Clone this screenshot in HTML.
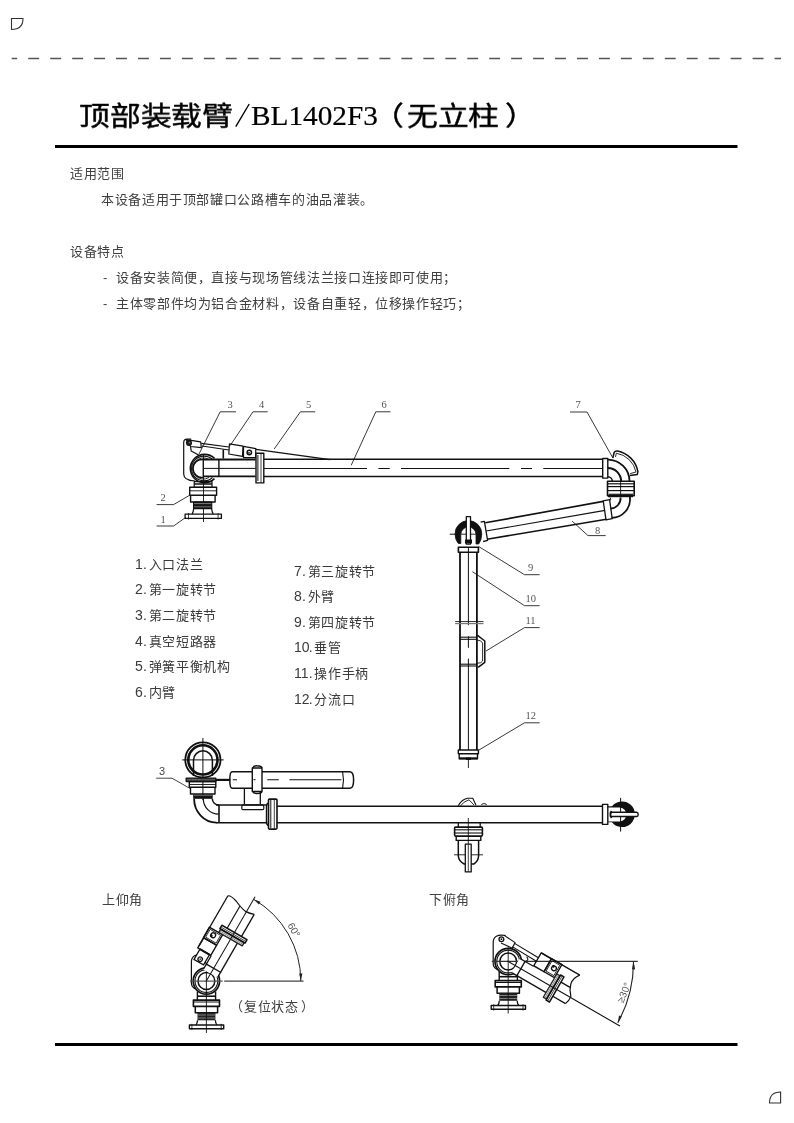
<!DOCTYPE html>
<html lang="zh-CN"><head><meta charset="utf-8">
<style>
html,body{margin:0;padding:0;background:#fff;}
body{width:794px;height:1123px;position:relative;overflow:hidden;font-family:"Liberation Sans",sans-serif;color:#404040;}
.t{position:absolute;white-space:nowrap;line-height:1;font-size:13px;letter-spacing:0.64px;}
.ti{position:absolute;white-space:nowrap;line-height:1;font-size:28px;color:#000;transform-origin:0 0;transform:scale(1.1,0.95);-webkit-text-stroke:0.45px #000;}
.lg{position:absolute;white-space:nowrap;line-height:1;font-size:13px;letter-spacing:0.64px;color:#3a3a3a;}
.n{display:inline-block;letter-spacing:0;font-size:14px;}
.n1{width:6.82px}.n2{width:13.64px}.p{display:inline-block;width:5.6px;padding-left:1.2px;letter-spacing:0;font-size:14px;}
svg{position:absolute;left:0;top:0;will-change:transform;}
.t,.ti,.lg{will-change:transform;}
</style></head><body>
<svg width="794" height="1123" viewBox="0 0 794 1123">
  <path d="M11.5 18.5 H23 Q23 29.5 11.5 29.5 Z" fill="none" stroke="#333" stroke-width="1.1"/>
  <line x1="11.7" y1="58.5" x2="781" y2="58.5" stroke="#555" stroke-width="1.4" stroke-dasharray="10.9 11.05" stroke-dashoffset="5.4"/>
  <rect x="55" y="145" width="682.5" height="3" fill="#000"/>
  <rect x="55" y="1043" width="682.5" height="3" fill="#000"/>
  <path d="M780.6 1092 V1103 H769.5 Q769.5 1092 780.6 1092 Z" fill="none" stroke="#333" stroke-width="1.1"/>
<line x1="235.8" y1="126.7" x2="249.2" y2="104" stroke="#000" stroke-width="1.4"/>
<g fill="none" stroke="#111" stroke-width="1.2" stroke-linejoin="round">
  <!-- labels -->
  <g stroke="#222" stroke-width="0.9">
    <polyline points="236,411.8 220.2,411.8 199,454"/>
    <polyline points="267.7,411.8 253,411.8 230,445.7"/>
    <polyline points="315.2,411.8 300.4,411.8 274.2,449"/>
    <polyline points="390.5,411.8 375.8,411.8 351.2,465.3"/>
    <polyline points="156.6,504.6 173.6,504.6 189.7,495.2"/>
    <polyline points="156.6,526 173.6,526 185.9,517.3"/>
    <polyline points="570,412 587,412 612.9,458"/>
    <polyline points="605.7,535.6 588,535.6 572.2,521.2"/>
    <polyline points="539.6,574.7 524.5,574.7 478.5,546.4"/>
    <polyline points="539.6,605.7 524.5,605.7 472.4,571.7"/>
    <polyline points="539.6,627.6 524.5,627.6 486,651"/>
    <polyline points="539.6,722.8 524.5,722.8 478,750.6"/>
  </g>
  <!-- center line base -->
  <line x1="203.5" y1="454" x2="203.5" y2="522" stroke-width="0.9"/>
  <!-- bracket -->
  <path d="M195,481 Q183.7,480.5 183.7,474 V442.5 Q183.7,439.2 187,439.2 H191.2"/>
  <path d="M190.6,446.8 L191.2,450.9 L199,455.3"/>
  <!-- link -->
  <path d="M186.2,439.6 L200.7,441.8 L201.3,447.7 L190.6,446.5 Z"/>
  <circle cx="189" cy="443" r="2.4" fill="#222" stroke-width="1.2"/><circle cx="189.6" cy="442.6" r="0.8" fill="#888" stroke="none"/>
  <!-- rod -->
  <line x1="201.3" y1="443.3" x2="229" y2="447"/>
  <line x1="201.9" y1="446" x2="229" y2="450"/>
  <path d="M229.5,443.8 L243,446.2 L242.5,456.4 L228.8,454 Z"/>
  <path d="M243.5,446.3 L255.8,448.6 L255.6,457.7 L243.5,457.7 Z"/>
  <circle cx="249.3" cy="452.5" r="2.2" fill="none" stroke-width="1.5"/><circle cx="249" cy="452.8" r="0.9" fill="#111" stroke="none"/>
  <line x1="255.8" y1="449.3" x2="330" y2="459.6"/>
  <line x1="223.3" y1="449.6" x2="223.3" y2="458.5" stroke-width="1.6"/>
  <!-- joint ring -->
  <path d="M214.5,458.3 A14.2,14.2 0 1 0 214.5,478.7" stroke-width="1.7"/>
  <path d="M212.5,459.5 A12.4,12.4 0 1 0 212.5,477.5" stroke-width="1.1"/>
  <path d="M209,459.5 A10.6,10.6 0 1 0 209,477.5" stroke-width="0.9"/>
  <path d="M203.3,459.6 A9,9 0 1 0 203.3,477.4" stroke-width="1.6"/>
  <!-- inner pipe -->
  <line x1="203.2" y1="459.5" x2="255.6" y2="459.5" stroke-width="1.8"/>
  <line x1="203.2" y1="476.4" x2="255.6" y2="476.4" stroke-width="1.8"/>
  <line x1="203.2" y1="459.5" x2="203.2" y2="476.4"/>
  <line x1="218.9" y1="459.5" x2="218.9" y2="476.4" stroke-width="1.4"/>
  <line x1="203.2" y1="468.4" x2="255.6" y2="468.4" stroke-width="1"/>
  <!-- flange -->
  <rect x="256" y="453.3" width="7.8" height="29.6" fill="#fff" stroke-width="1.4"/>
  <line x1="257.9" y1="455" x2="257.9" y2="481" stroke-width="1"/>
  <line x1="261" y1="453.3" x2="261" y2="482.9" stroke-width="0.8"/>
  <!-- pipe 6 -->
  <line x1="263.8" y1="459.25" x2="602.2" y2="459.25" stroke-width="1.5"/>
  <line x1="263.8" y1="476.4" x2="602.2" y2="476.4" stroke-width="1.5"/>
  <path d="M263.8,468.5 H367 M378.4,468.5 H389.7 M401,468.5 H509.3 M521,468.5 H532 M543.3,468.5 H602" stroke-width="1.1"/>
  <!-- swivel 2 -->
  <rect x="194.2" y="481.7" width="17.8" height="5.6" stroke-width="1.2"/>
  <line x1="194.2" y1="484" x2="212" y2="484" stroke-width="1.5"/>
  <rect x="189.7" y="487.2" width="26.9" height="8.1" stroke-width="1.4"/>
  <line x1="189.7" y1="490.8" x2="216.6" y2="490.8" stroke-width="0.9"/>
  <path d="M190.6,495.3 V502 H215.1 V495.3" stroke-width="1.4"/>
  <rect x="193.6" y="502" width="18.1" height="6.6" fill="#151515" stroke-width="1.2"/>
  <line x1="194" y1="503.6" x2="211.3" y2="503.6" stroke="#aaa" stroke-width="0.7"/>
  <line x1="194" y1="506.8" x2="211.3" y2="506.8" stroke="#999" stroke-width="0.7"/>
  <path d="M193.6,508.6 Q193.5,512 192.1,514.1 M211.7,508.6 Q211.8,512 213.2,514.1" stroke-width="1.2"/>
  <rect x="185.1" y="514.1" width="36.3" height="4.3" stroke-width="1.3"/>
  <line x1="188.5" y1="513" x2="188.5" y2="519.5" stroke-width="0.8"/>
  <line x1="218.1" y1="513" x2="218.1" y2="519.5" stroke-width="0.8"/>
</g>
<g font-family="Liberation Serif, serif" font-size="10.5" fill="#555">
  <text x="227.5" y="408">3</text>
  <text x="259" y="408">4</text>
  <text x="306" y="408">5</text>
  <text x="381.5" y="408">6</text>
  <text x="160.5" y="501">2</text>
  <text x="160.5" y="522.5">1</text>
  <text x="575.5" y="408">7</text>
  <text x="595" y="533.5">8</text>
  <text x="528" y="571">9</text>
  <text x="525.5" y="602">10</text>
  <text x="525.5" y="624">11</text>
  <text x="525.5" y="719">12</text>
</g>
<g fill="none" stroke="#111" stroke-width="1.3" stroke-linejoin="round">
  <!-- joint 7 upper elbow -->
  <rect x="602.7" y="458.5" width="5.1" height="19.6" stroke-width="1.4"/>
  <path d="M607.8,459.6 A21.7,21.7 0 0 1 629.5,481.3" stroke-width="1.8"/>
  <path d="M607.8,468 A13.3,13.3 0 0 1 621.1,481.3" stroke-width="2"/>
  <path d="M607.8,476.8 A4.5,4.5 0 0 1 612.3,481.3" stroke-width="1.5"/>
  <!-- handle 7 -->
  <path d="M612.8,458 L614.2,452.3 Q615.2,450.6 617.5,451 A26,26 0 0 1 637.9,471.5 L637.2,474.6 L630,475.5" stroke-width="1.5"/>
  <path d="M615.5,457 L616.3,453.2 A24,24 0 0 1 636,472 L630.2,473.6" stroke-width="0.9"/>
  <!-- swivel 7 -->
  <rect x="607.5" y="481.3" width="26.7" height="14.5" stroke-width="1.6"/>
  <line x1="607.5" y1="483.8" x2="634.2" y2="483.8" stroke-width="1.2"/>
  <line x1="607.5" y1="486.6" x2="634.2" y2="486.6" stroke-width="1.2"/>
  <line x1="607.5" y1="490.6" x2="634.2" y2="490.6" stroke-width="1.2"/>
  <line x1="608.5" y1="494.3" x2="633.2" y2="494.3" stroke-width="1.2"/>
  <line x1="608" y1="496.3" x2="633" y2="496.3" stroke-width="1.8"/>
  <line x1="620.6" y1="481.3" x2="620.6" y2="497" stroke-width="0.9"/>
  <!-- lower elbow -->
  <path d="M629.9,497 A18.5,18.5 0 0 1 611.6,517.8" stroke-width="1.8"/>
  <path d="M620.6,497.5 A10.5,10.5 0 0 1 610.3,508.6" stroke-width="1.8"/>
  <path d="M610,497.5 Q611.5,499.5 609.8,500.6" stroke-width="1"/>
  <!-- arm 8 collar + lines -->
  <path d="M603.2,500.8 L609.6,499.6 L612.2,518.6 L606,519.8 Z" stroke-width="1.3"/>
  <line x1="603.2" y1="501.4" x2="485.3" y2="522.8" stroke-width="1.6"/>
  <line x1="605" y1="510.4" x2="486.2" y2="531" stroke-width="1.1"/>
  <line x1="606.4" y1="519.3" x2="487" y2="539.2" stroke-width="1.6"/>
  <path d="M480.6,522.2 L484.4,521.3 L487.6,540.4 L483.2,541.5" stroke-width="1.3"/>
  <!-- joint 9 dome -->
  <path d="M455,534 A13.4,13.4 0 0 1 481.8,534 Q481.6,540 478.7,544 L476,544 V534.5 A7.6,7.6 0 0 0 460.8,534.5 V543.5 L458.4,543.5 Q455.2,540 455,534 Z" fill="#111" stroke="#111" stroke-width="0.8"/>
  <line x1="449.8" y1="534.2" x2="455.5" y2="534.2" stroke-width="1"/>
  <line x1="460.8" y1="534.2" x2="476" y2="534.2" stroke-width="0.9"/>
  <rect x="466.3" y="516.6" width="4.2" height="27.5" fill="#fff" stroke-width="1.3"/>
  <rect x="465" y="539.5" width="7" height="4" fill="#111" stroke="none"/>
  <rect x="458.4" y="547.2" width="20" height="5" stroke-width="1.6"/>
  <!-- pipe 10 -->
  <line x1="460" y1="552.2" x2="460" y2="750" stroke-width="1.8"/>
  <line x1="476.9" y1="552.2" x2="476.9" y2="750" stroke-width="1.8"/>
  <path d="M468.4,547 V625.1 M468.4,636.4 V647.8 M468.4,658.6 V750" stroke-width="1"/>
  <line x1="455.1" y1="621.6" x2="483.5" y2="621.6" stroke-width="0.9"/>
  <line x1="455.1" y1="623.6" x2="483.5" y2="623.6" stroke-width="1.2" stroke="#777"/>
  <line x1="460" y1="637.2" x2="476.9" y2="637.2" stroke-width="1.1"/>
  <line x1="460" y1="639.3" x2="476.9" y2="639.3" stroke-width="1.1"/>
  <line x1="460" y1="664.2" x2="476.9" y2="664.2" stroke-width="1.1"/>
  <line x1="460" y1="666" x2="476.9" y2="666" stroke-width="1.1"/>
  <path d="M477.2,635.2 L484.8,641 V662.3 L478.1,667.4" stroke-width="1.5"/>
  <path d="M477,640 Q481.5,640.3 482.6,643 V661 Q481.8,663.2 477,663.3" stroke-width="0.9"/>
  <!-- bottom -->
  <rect x="458.3" y="750" width="20.1" height="3.7" stroke-width="1.4"/>
  <path d="M459.2,753.7 V758.8 H477.5 V753.7" stroke-width="1.4"/>
  <line x1="459.2" y1="758.3" x2="477.5" y2="758.3" stroke-width="2"/>
  <rect x="466" y="757.5" width="5" height="2.5" fill="#111" stroke="none"/>
  <line x1="468.4" y1="759" x2="468.4" y2="768" stroke-width="0.9"/>
</g>
<g fill="none" stroke="#111" stroke-width="1.3" stroke-linejoin="round">
  <polyline points="156.2,778.2 172,778.2 190.6,788.8" stroke="#333" stroke-width="0.9"/>
  <!-- ring top view -->
  <circle cx="202.9" cy="759.9" r="17.6" stroke-width="1.8"/>
  <circle cx="202.9" cy="759.9" r="14.6" stroke-width="2.6"/>
  <path d="M193.5,776 V760.3 A9.45,9.45 0 0 1 212.4,760.3 V776" stroke-width="1.5"/>
  <line x1="202.9" y1="738" x2="202.9" y2="800" stroke-width="1"/>
  <line x1="182.2" y1="759.9" x2="223.7" y2="759.9" stroke-width="1"/>
  <!-- rod bar + body -->
  <rect x="186.2" y="778.1" width="29.6" height="3.4" fill="#555" stroke-width="1.3"/>
  <line x1="189" y1="779.8" x2="200" y2="779.8" stroke="#999" stroke-width="0.6" stroke-dasharray="1.5 1.5"/>
  <line x1="215.8" y1="779.9" x2="230.3" y2="779.9" stroke-width="2.2"/>
  <rect x="189.3" y="781.5" width="26.5" height="5.7" stroke-width="1.4"/>
  <path d="M190.5,787.2 V794 H215 V787.2" stroke-width="1.4"/>
  <line x1="189.3" y1="784.5" x2="215.8" y2="784.5" stroke-width="0.9"/>
  <rect x="193.2" y="794.6" width="19.5" height="4.2" fill="#111" stroke="none"/>
  <line x1="194" y1="795.6" x2="212" y2="795.6" stroke="#888" stroke-width="0.7"/>
  <!-- elbow -->
  <path d="M194.1,798.8 A22.4,23.9 0 0 0 216.5,822.7" stroke-width="1.8"/>
  <path d="M203.3,798.8 A15.4,15.4 0 0 0 218.7,814.2" stroke-width="1.2"/>
  <path d="M212.3,798.8 A6.7,6.3 0 0 0 219,805.1" stroke-width="1.5"/>
  <line x1="219" y1="805.1" x2="219" y2="822.7" stroke-width="1.6"/>
  <line x1="216" y1="805.1" x2="267.3" y2="805.1" stroke-width="1.5"/>
  <line x1="216" y1="822.7" x2="267.3" y2="822.7" stroke-width="1.6"/>
  <!-- post -->
  <path d="M244.4,788.2 V804 M260.3,788.2 V804" stroke-width="1.3"/>
  <path d="M243,804.8 H262.5 Q263.8,805 263.8,806.8 V808.5 Q263.8,809.7 262.5,809.7 H243 Q241.8,809.7 241.8,808.5 V806.8 Q241.8,805 243,804.8 Z" stroke-width="1.2"/>
  <!-- cylinder -->
  <path d="M232,771.8 H350 Q353.6,772 353.6,780 Q353.6,788 350,788.2 H232 Q229.8,788 229.8,780 Q229.8,772 232,771.8 Z" stroke-width="1.5"/>
  <path d="M342.6,771.8 Q344.4,780 342.6,788.2" stroke-width="1.1"/>
  <path d="M232.8,779.7 H237 M267.3,779.7 H278.8 M289.4,779.7 H341.4" stroke-width="1.1"/>
  <rect x="252.3" y="768" width="9.7" height="23.5" fill="#fff" stroke-width="1.4"/>
  <path d="M252.8,768 Q253.5,765.6 257,765.8 Q261.5,765.8 262,768" stroke-width="1.4"/>
  <path d="M252.8,791.5 Q253.5,793.6 257,793.5 Q261.5,793.5 262,791.5" stroke-width="1.4"/>
  <line x1="253.5" y1="779.7" x2="255.5" y2="779.7" stroke-width="1"/>
  <!-- flange -->
  <rect x="268.5" y="799.1" width="8.5" height="30" rx="1" fill="#fff" stroke-width="1.6"/>
  <line x1="270.8" y1="800" x2="270.8" y2="828" stroke-width="1"/>
  <line x1="274.3" y1="799.5" x2="274.3" y2="828.8" stroke-width="0.8"/>
  <path d="M268.5,803 Q266.5,803.5 266.5,806 V822 Q266.5,825 268.5,825.5" stroke-width="1.4"/>
  <!-- arm pipe -->
  <line x1="277" y1="806.2" x2="602.5" y2="806.2" stroke-width="1.6"/>
  <line x1="277" y1="822.8" x2="602.5" y2="822.8" stroke-width="1.6"/>
  <!-- end joint -->
  <rect x="602.5" y="804.4" width="5.3" height="20" stroke-width="1.4"/>
  <path d="M607.8,806.3 H612 A12.8,12.8 0 1 1 612,822.2 H607.8 V806.3 Z M607.8,807.4 V821.6 H620 A7.6,7.2 0 0 0 620,807.4 Z" fill="#111" fill-rule="evenodd" stroke="none"/>
  <line x1="620.6" y1="797.9" x2="620.6" y2="831.6" stroke-width="1"/>
  <path d="M610.4,812.3 H636.8 Q638.2,812.6 638.2,814.4 Q638.2,816.3 636.8,816.5 H610.4 Z" fill="#fff" stroke-width="1.4"/>
  <path d="M611.5,811 Q609.5,814.4 611.5,818" stroke-width="1.6"/>
  <!-- hook on top -->
  <path d="M458.3,805.8 Q461.5,799.6 467.5,798.3 L472.8,798.3 L476,805.2" stroke-width="1.1"/>
  <path d="M460.6,805.8 Q463.5,801.5 469,799.8 L474,805" stroke-width="0.9"/>
  <path d="M481.3,805 Q481.8,803.6 484,803.6 Q486.6,803.8 486.6,805" stroke-width="0.9"/>
  <line x1="468.3" y1="818" x2="468.3" y2="822.8" stroke-width="0.9"/>
  <!-- drop -->
  <path d="M458.3,822.8 V827.1 M480.2,822.8 V827.1" stroke-width="1.3"/>
  <rect x="454.6" y="827.1" width="27.8" height="9" rx="1" stroke-width="1.6"/>
  <line x1="454.6" y1="829.8" x2="482.4" y2="829.8" stroke-width="1.1"/>
  <line x1="454.6" y1="833" x2="482.4" y2="833" stroke-width="1.1"/>
  <path d="M456.2,836.1 V840.4 H480.8 V836.1" stroke-width="1.4"/>
  <path d="M458.3,840.4 V856 Q458.8,861.5 464.2,864 H473.8 Q478.2,861.5 478.6,856 V840.4" stroke-width="1.5"/>
  <line x1="454.1" y1="854.8" x2="482.9" y2="854.8" stroke-width="0.9"/>
  <rect x="465.3" y="844.1" width="5.9" height="27.8" fill="#fff" stroke-width="1.3"/>
  <line x1="468.3" y1="844.5" x2="468.3" y2="871.5" stroke-width="0.8"/>
  <line x1="468.3" y1="822.8" x2="468.3" y2="844" stroke-width="0.9"/>
</g>
<g font-family="Liberation Sans, sans-serif" font-size="11" fill="#444"><text x="159" y="775">3</text></g>
<defs>
  <g id="base34" fill="none" stroke="#111" stroke-linejoin="round">
    <!-- relative to pivot (0,0) -->
    <path d="M-2.5,-26 Q-15,-28 -15,-19 V2 Q-15,6 -11,8" stroke-width="1.2"/>
    <circle cx="-6.8" cy="-22.3" r="2.4" stroke-width="1.3"/>
    <circle cx="-6.8" cy="-22.3" r="0.9" fill="#111" stroke="none"/>
    <circle cx="0" cy="0" r="13.2" stroke-width="1.7"/>
    <circle cx="0" cy="0" r="11.4" stroke-width="1.1"/>
    <circle cx="0" cy="0" r="8.4" stroke-width="1.5"/>
    <path d="M-9,10.4 V19.1 M9.2,10.4 V19.1" stroke-width="1.4"/>
    <line x1="-9" y1="15.2" x2="9.2" y2="15.2" stroke-width="1.6"/>
    <rect x="-13" y="19.1" width="26.1" height="6.3" stroke-width="1.6"/>
    <line x1="-13" y1="21" x2="13.1" y2="21" stroke-width="1"/>
    <path d="M-11.1,25.4 V31.7 H11.2 V25.4" stroke-width="1.5"/>
    <rect x="-8.9" y="31.7" width="17.9" height="7.6" fill="#222" stroke="none"/>
    <line x1="-8.9" y1="34" x2="9" y2="34" stroke="#999" stroke-width="0.8"/>
    <line x1="-8.9" y1="37" x2="9" y2="37" stroke="#999" stroke-width="0.8"/>
    <path d="M-8.9,39.3 Q-9,42.5 -10.5,43.9 M9,39.3 Q9.1,42.5 10.5,43.9" stroke-width="1.3"/>
    <rect x="-17" y="44" width="34.3" height="3.8" stroke-width="1.4"/>
    <line x1="-14.5" y1="42.8" x2="-14.5" y2="49" stroke-width="0.8"/>
    <line x1="14.8" y1="42.8" x2="14.8" y2="49" stroke-width="0.8"/>
    <line x1="0" y1="-14" x2="0" y2="52" stroke-width="0.9"/>
  </g>
  <g id="arm34" fill="none" stroke="#111" stroke-linejoin="round">
    <path d="M8.5,-8.5 H14.6 V7.9 H8.5 Z" fill="#fff" stroke="none"/>
    <path d="M9,-8.5 H14.6 V7.9 H9" stroke-width="1.3"/>
    <path d="M14.6,-8.5 Q18,-12 13.5,-13.5" stroke-width="1.1"/>
    <line x1="-1" y1="0" x2="48" y2="0" stroke-width="1"/>
    <line x1="14.6" y1="7.9" x2="52" y2="7.9" stroke-width="1.3"/>
    <line x1="14.6" y1="-8.5" x2="24.3" y2="-8.5" stroke-width="1.3"/>
    <rect x="24.3" y="-24" width="11.8" height="15" stroke-width="1.4"/>
    <rect x="36.1" y="-24.3" width="12" height="15.2" stroke-width="1.4"/>
    <rect x="37.6" y="-22.6" width="9" height="12" stroke-width="0.8"/>
    <circle cx="43" cy="-17" r="2.4" stroke-width="1.3"/>
    <circle cx="41.6" cy="-18.4" r="1.4" fill="#111" stroke="none"/>
    <rect x="48.3" y="-13.5" width="3.8" height="27" fill="#fff" stroke-width="1.2"/>
    <path d="M48.6,-13 V13.3 M50,-13 V13.3 M51.3,-13 V13.3" stroke="#444" stroke-width="0.6"/>
    <rect x="52.1" y="-14.5" width="3.9" height="29" stroke-width="1.5"/>
    <line x1="54" y1="-14" x2="54" y2="14" stroke-width="0.7"/>
  </g>
</defs>
<g fill="none" stroke="#111">
  <use href="#base34" transform="translate(206.4,981)"/>
  <line x1="190" y1="981.2" x2="222.7" y2="981.2" stroke="#555" stroke-width="1.2"/>
  <line x1="224.2" y1="981.2" x2="303.5" y2="981.2" stroke="#444" stroke-width="1.2"/>
  <g transform="translate(206.4,981) rotate(-60)">
    <use href="#arm34"/>
    <line x1="56" y1="-8.4" x2="81.4" y2="-8.4" stroke-width="1.2"/>
    <line x1="56" y1="8.1" x2="81.6" y2="8.1" stroke-width="1.3"/>
    <line x1="48" y1="0" x2="97.3" y2="0" stroke-width="1"/>
    <line x1="27" y1="-24" x2="84.6" y2="-24" stroke-width="1.3"/>
    <path d="M84.6,-24 Q86.5,-21 84,-14 Q80.5,-6 79.8,-1 Q80,4 81.6,8.1" stroke-width="1.2"/>
    <path d="M12.5,-21.5 L24.3,-21.5 L24.3,-10.5 L12.5,-10.5 Z" fill="#fff" stroke-width="1.3"/>
    <circle cx="15.8" cy="-16.3" r="2.2" stroke-width="1.3"/>
    <circle cx="15.8" cy="-16.3" r="0.8" fill="#111" stroke="none"/>
    <line x1="24.3" y1="-21.5" x2="24.3" y2="-10" stroke-width="2"/>
      </g>
  <!-- angle arc 60 -->
  <path d="M300.8,981 A94.3,94.3 0 0 0 253.6,899.3" stroke-width="1" stroke="#222"/>
  <path d="M300.8,981.2 L299.2,973.6 L302.4,973.4 Z" fill="#222" stroke="none"/>
  <path d="M253.6,899.3 L260.6,901.8 L258.9,904.4 Z" fill="#222" stroke="none"/>
</g>
<text x="0" y="0" font-family="Liberation Sans, sans-serif" font-size="10" fill="#555" transform="translate(287.3,925.2) rotate(60)">60°</text>
<g fill="none" stroke="#111">
  <use href="#base34" transform="translate(508.2,961.5)"/>
  <line x1="491.8" y1="961.4" x2="637.7" y2="961.4" stroke="#333" stroke-width="1.2"/>
  <g transform="translate(508.2,961.5) rotate(30)">
    <use href="#arm34"/>
    <line x1="56" y1="-8.5" x2="66.5" y2="-8.5" stroke-width="1.2"/>
    <line x1="56" y1="7.8" x2="70.7" y2="7.8" stroke-width="1.3"/>
    <line x1="48" y1="0" x2="129" y2="0" stroke-width="1.1"/>
    <line x1="24.3" y1="-24" x2="68.8" y2="-24" stroke-width="1.3"/>
    <path d="M68.8,-24 Q64,-18 65.5,-11.8 Q67,-6 71.7,-1.1 Q72.5,4 70.7,7.8" stroke-width="1.2"/>
    <path d="M-3.5,-18.9 L24.3,-18.3 M-3.9,-14.9 L24.3,-14.3" stroke-width="1.1"/>
    <path d="M-17,-20.6 L-3.5,-19.8 L-3.2,-13.5 L-15.5,-12.5" stroke-width="1.1"/>
  </g>
  <path d="M633.5,961.8 A125.4,125.4 0 0 1 617.8,1022.7" stroke-width="1.1" stroke="#222"/>
  <path d="M633.6,961.8 L635.2,969.5 L632,969.2 Z" fill="#222" stroke="none"/>
  <path d="M617.8,1022.8 L619,1015.4 L621.8,1016.6 Z" fill="#222" stroke="none"/>
</g>
<text x="0" y="0" font-family="Liberation Sans, sans-serif" font-size="10" fill="#555" transform="translate(623.3,1003.5) rotate(-68)">≥30°</text>

</svg>
<div class="ti" style="left:79.4px;top:103.5px;">顶部装载臂</div>
<div class="ti" style="left:250.5px;top:101.8px;font-family:'Liberation Serif',serif;transform:scale(1.065,1);font-size:27.5px;-webkit-text-stroke:0.2px #000">BL1402F3</div>
<div class="ti" style="left:373px;top:103.5px;">（</div>
<div class="ti" style="left:375.5px;top:103.5px;">&#x3000;无立柱</div>
<div class="ti" style="left:382px;top:103.5px;">&#x3000;&#x3000;&#x3000;&#x3000;）</div>

<div class="t" style="left:70px;top:167px;">适用范围</div>
<div class="t" style="left:101px;top:192.5px;">本设备适用于顶部罐口公路槽车的油品灌装。</div>
<div class="t" style="left:70px;top:245px;">设备特点</div>
<div class="t" style="left:102.5px;top:270.5px;">-</div>
<div class="t" style="left:116px;top:270.5px;">设备安装简便，直接与现场管线法兰接口连接即可使用；</div>
<div class="t" style="left:102.5px;top:296.5px;">-</div>
<div class="t" style="left:116px;top:296.5px;">主体零部件均为铝合金材料，设备自重轻，位移操作轻巧；</div>

<div class="lg" style="left:134.6px;top:556.6px;"><span class="n n1">1</span><span class="p">.</span>入口法兰</div>
<div class="lg" style="left:134.6px;top:582.3px;"><span class="n n1">2</span><span class="p">.</span>第一旋转节</div>
<div class="lg" style="left:134.6px;top:608.0px;"><span class="n n1">3</span><span class="p">.</span>第二旋转节</div>
<div class="lg" style="left:134.6px;top:633.7px;"><span class="n n1">4</span><span class="p">.</span>真空短路器</div>
<div class="lg" style="left:134.6px;top:659.4px;"><span class="n n1">5</span><span class="p">.</span>弹簧平衡机构</div>
<div class="lg" style="left:134.6px;top:685.1px;"><span class="n n1">6</span><span class="p">.</span>内臂</div>
<div class="lg" style="left:293.6px;top:563.6px;"><span class="n n1">7</span><span class="p">.</span>第三旋转节</div>
<div class="lg" style="left:293.6px;top:589.2px;"><span class="n n1">8</span><span class="p">.</span>外臂</div>
<div class="lg" style="left:293.6px;top:614.8px;"><span class="n n1">9</span><span class="p">.</span>第四旋转节</div>
<div class="lg" style="left:293.6px;top:640.4px;"><span class="n n2">10</span><span class="p">.</span>垂管</div>
<div class="lg" style="left:293.6px;top:666.0px;"><span class="n n2">11</span><span class="p">.</span>操作手柄</div>
<div class="lg" style="left:293.6px;top:691.6px;"><span class="n n2">12</span><span class="p">.</span>分流口</div>

<div class="t" style="left:102px;top:892.5px;">上仰角</div>
<div class="t" style="left:429px;top:892.5px;">下俯角</div>
<div class="t" style="left:230px;top:999.5px;">（</div>
<div class="t" style="left:243.9px;top:999.5px;">复位状态</div>
<div class="t" style="left:301.2px;top:999.5px;">）</div>
</body></html>
